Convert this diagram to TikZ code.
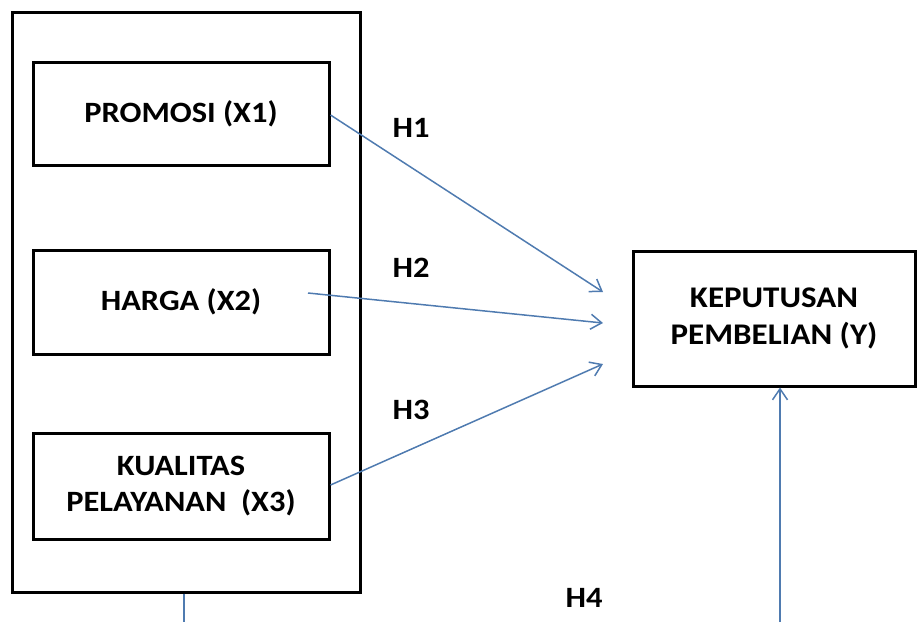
\documentclass[tikz,border=0pt]{standalone}
\usepackage{fontspec}
\newfontfamily\lbl{Carlito}[FakeStretch=1.1]
\usetikzlibrary{arrows.meta}
\definecolor{conn}{HTML}{4F7BB0}
\begin{document}
\begin{tikzpicture}[x=1pt,y=-1pt,
  box/.style={draw=black,line width=3pt,rectangle,inner sep=0pt,align=center,
    font=\lbl\bfseries\fontsize{29.5}{36}\selectfont},
  hlab/.style={font=\lbl\bfseries\fontsize{29.5}{36}\selectfont,inner sep=0pt},
  conn/.style={draw=conn,line width=1.5pt},
  arr/.style={conn,-{Straight Barb[length=11pt,width=15pt,line width=1.5pt]}}]
\useasboundingbox (0,0) rectangle (917,622);
\node[box,minimum width=348pt,minimum height=580pt] (outer) at (186,302) {};
\node[box,minimum width=296pt,minimum height=103pt] (x1) at (181,113.5) {PROMOSI (X1)};
\node[box,minimum width=296pt,minimum height=104pt] (x2) at (181,302) {HARGA (X2)};
\node[box,minimum width=296pt,minimum height=106pt] (x3) at (181,486) {KUALITAS\\PELAYANAN\ \ (X3)};
\node[box,minimum width=282pt,minimum height=135pt,font=\lbl\bfseries\fontsize{30}{37.5}\selectfont] (y) at (774,318.5) {KEPUTUSAN\\PEMBELIAN (Y)};
\node[hlab] (h1) at (411,128) {H1};
\node[hlab] (h2) at (411,268) {H2};
\node[hlab] (h3) at (411,410) {H3};
\node[hlab] (h4) at (584,598) {H4};
\coordinate (e1) at (603,292);
\coordinate (e2) at (603,323);
\coordinate (e3) at (603,364);
\coordinate (s2) at (308,293);
\coordinate (b1) at (184,622);
\coordinate (b2) at (780,622);
\draw[arr] (x1.east |- 0,115) -- (e1);
\draw[arr] (s2) -- (e2);
\draw[arr] (x3.east |- 0,485) -- (e3);
\draw[arr] (b2) -- (b2 |- y.south);
\draw[conn] (outer.south -| b1) -- (b1);
\end{tikzpicture}
\end{document}
